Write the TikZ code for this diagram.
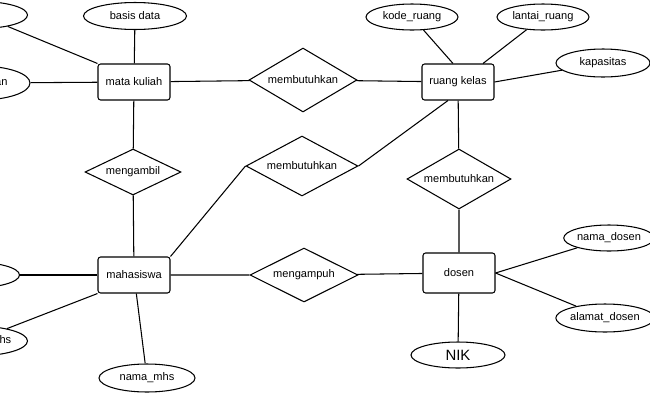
\documentclass[tikz,border=0pt]{standalone}
\usepackage{fontspec}
\setmainfont{Liberation Sans}
\usetikzlibrary{shapes.geometric}
\begin{document}
\begin{tikzpicture}[x=0.02cm,y=-0.02cm,line width=.6pt,font=\fontsize{6.3}{8}\selectfont]
    \tikzstyle{ent}=[draw,rounded corners=1.5pt,minimum width=1.44cm,minimum height=0.72cm,inner sep=1pt]
    \tikzstyle{rel}=[draw,diamond,aspect=1.8,inner sep=0pt]
    \tikzstyle{att}=[draw,ellipse,minimum height=0.54cm,inner sep=0pt]
    \useasboundingbox (0,0) rectangle (650,400);
    \clip (0,0) rectangle (650,400);
    % entitas
    \node[ent] (mk) at (134,82) {mata kuliah};
    \node[ent] (rk) at (458,82) {ruang kelas};
    \node[ent] (mhs) at (134,275) {mahasiswa};
    \node[ent,minimum height=0.8cm] (dsn) at (459,273) {dosen};
    % relasi
    \node[rel,minimum width=2.16cm,minimum height=1.28cm] (butuh1) at (303,80) {membutuhkan};
    \node[rel,minimum width=1.92cm,minimum height=0.92cm] (ambil) at (133,172) {mengambil};
    \node[rel,minimum width=2.24cm,minimum height=1.2cm] (butuh2) at (302,166) {membutuhkan};
    \node[rel,minimum width=2.08cm,minimum height=1.2cm] (butuh3) at (459,179) {membutuhkan};
    \node[rel,minimum width=2.16cm,minimum height=1.08cm] (ampu) at (304,275) {mengampuh};
    % atribut
    \node[att,minimum width=2.06cm] (basis) at (135,16) {basis data};
    \node[att,minimum width=1.9cm] (kmk) at (-20,15) {};
    \node[att,minimum width=2cm,minimum height=0.68cm,text width=1.1cm,align=right] (jur) at (-20,83) {jurusan};
    \node[att,minimum width=1.84cm,minimum height=0.52cm] (kode) at (412,17) {kode\_ruang};
    \node[att,minimum width=1.84cm,minimum height=0.52cm] (lantai) at (543,17) {lantai\_ruang};
    \node[att,minimum width=1.88cm,minimum height=0.56cm] (kap) at (603,63) {kapasitas};
    \node[att,minimum width=1.6cm,minimum height=0.52cm] (nmd) at (609,238) {nama\_dosen};
    \node[att,minimum width=1.92cm,minimum height=0.56cm] (almd) at (605,318) {alamat\_dosen};
    \node[att,minimum width=1.88cm,minimum height=0.52cm,font=\fontsize{8.5}{10}\selectfont] (nik) at (458,355) {NIK};
    \node[att,minimum width=1.9cm,minimum height=0.52cm] (nim) at (-28,275) {};
    \node[att,minimum width=2.1cm,minimum height=0.6cm,text width=1.45cm,align=right] (almm) at (-25,341) {alamat\_mhs};
    \node[att,minimum width=1.92cm,minimum height=0.56cm] (nmm) at (147,378) {nama\_mhs};
    % garis
    \draw (kmk) -- (mk.north west);
    \draw (basis) -- (mk);
    \draw (jur) -- (mk);
    \draw (mk) -- (butuh1) -- (rk);
    \draw (kode) -- ([xshift=-0.1cm]rk.north);
    \draw (lantai) -- ([xshift=0.5cm]rk.north);
    \draw (kap) -- (rk.east);
    \draw (mk) -- (ambil) -- (mhs);
    \draw (mhs.north east) -- (butuh2.west);
    \draw (butuh2.east) -- ([xshift=-0.2cm]rk.south);
    \draw (rk) -- (butuh3) -- (dsn);
    \draw (mhs) -- (ampu) -- (dsn);
    \draw (dsn.east) -- (nmd);
    \draw (dsn.east) -- (almd);
    \draw (dsn) -- (nik);
    \draw (nim) -- (mhs);
    \draw (almm) -- (mhs.south west);
    \draw (mhs) -- (nmm);
\end{tikzpicture}
\end{document}
